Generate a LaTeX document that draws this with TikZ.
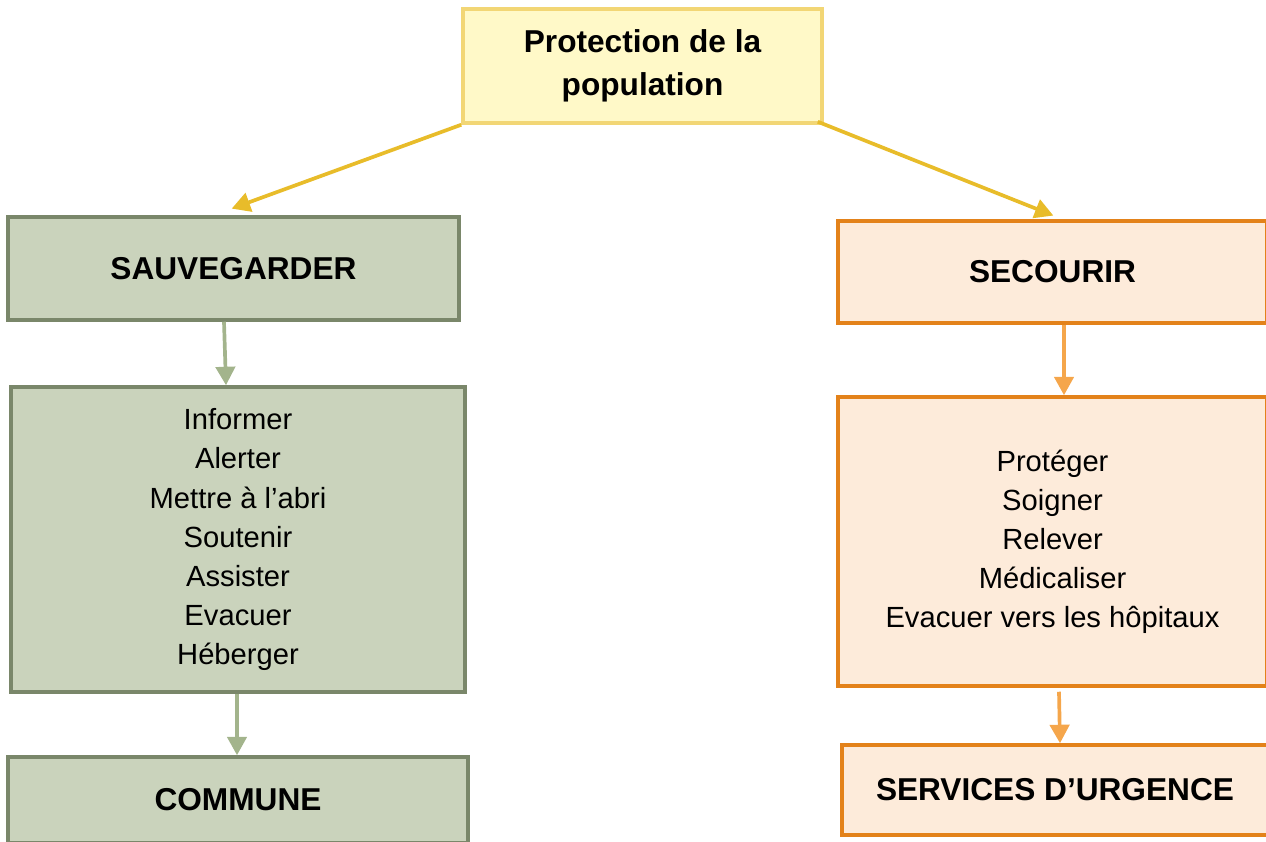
\documentclass[tikz,border=0pt]{standalone}
\usepackage{fontspec}
\setmainfont{Liberation Sans}
\usetikzlibrary{arrows.meta}
\definecolor{topfill}{HTML}{FFF9C8}
\definecolor{topline}{HTML}{F2D675}
\definecolor{toparrow}{HTML}{E8BC2A}
\definecolor{greenfill}{HTML}{CAD3BC}
\definecolor{greenline}{HTML}{7A876A}
\definecolor{greenarrow}{HTML}{A3B48C}
\definecolor{orangefill}{HTML}{FDEBDA}
\definecolor{orangeline}{HTML}{E3821A}
\definecolor{orangearrow}{HTML}{F5A64B}
\begin{document}
\begin{tikzpicture}[
        titletext/.style={font=\fontsize{18}{24.4}\selectfont\bfseries, align=center},
        listtext/.style={font=\fontsize{16.6}{22.2}\selectfont, align=center},
        box/.style={rectangle, draw, line width=2pt, inner sep=0pt},
        topbox/.style={box, titletext, fill=topfill, draw=topline},
        savebox/.style={box, fill=greenfill, draw=greenline},
        helpbox/.style={box, fill=orangefill, draw=orangeline},
        link/.style={line width=2.1pt, -{Triangle[length=10.5pt, width=11pt]}},
        toplink/.style={link, draw=toparrow, fill=toparrow},
        savelink/.style={link, draw=greenarrow, fill=greenarrow},
        helplink/.style={link, draw=orangearrow, fill=orangearrow}
    ]
    \useasboundingbox (0,0) rectangle (25.32,16.84);
    \clip (0,0) rectangle (25.32,16.84);
    \node[topbox, minimum width=7.18cm, minimum height=2.28cm] (protection) at (12.85,15.52)
        {Protection de la\\population};
    \node[savebox, titletext, minimum width=9.02cm, minimum height=2.06cm] (sauvegarder) at (4.67,11.47)
        {SAUVEGARDER};
    \node[savebox, listtext, minimum width=9.08cm, minimum height=6.10cm] (actions) at (4.76,6.05)
        {Informer\\Alerter\\Mettre à l’abri\\Soutenir\\Assister\\Evacuer\\Héberger};
    \node[savebox, titletext, minimum width=9.2cm, minimum height=1.72cm] (commune) at (4.76,0.84)
        {COMMUNE};
    \node[helpbox, titletext, minimum width=8.58cm, minimum height=2.04cm] (secourir) at (21.05,11.40)
        {SECOURIR};
    \node[helpbox, listtext, minimum width=8.58cm, minimum height=5.78cm] (soins) at (21.05,6.01)
        {Protéger\\Soigner\\Relever\\Médicaliser\\Evacuer vers les hôpitaux};
    \node[helpbox, titletext, minimum width=8.52cm, minimum height=1.80cm] (urgence) at (21.10,1.04)
        {SERVICES D’URGENCE};
    \draw[toplink, shorten >=1pt] (protection.south west) -- ([xshift=-0.07cm, yshift=0.12cm]sauvegarder.north);
    \draw[toplink, shorten >=1pt] ([xshift=-0.12cm, yshift=0.06cm]protection.south east) -- ([xshift=0.05cm, yshift=0.06cm]secourir.north);
    \draw[savelink] ([xshift=-0.19cm]sauvegarder.south) -- ([xshift=-0.24cm]actions.north);
    \draw[savelink] ([xshift=-0.02cm]actions.south) -- ([xshift=-0.02cm]commune.north);
    \draw[helplink] ([xshift=0.23cm]secourir.south) -- ([xshift=0.23cm]soins.north);
    \draw[helplink] ([xshift=0.13cm, yshift=-0.08cm]soins.south) -- ([xshift=0.10cm]urgence.north);
\end{tikzpicture}
\end{document}
